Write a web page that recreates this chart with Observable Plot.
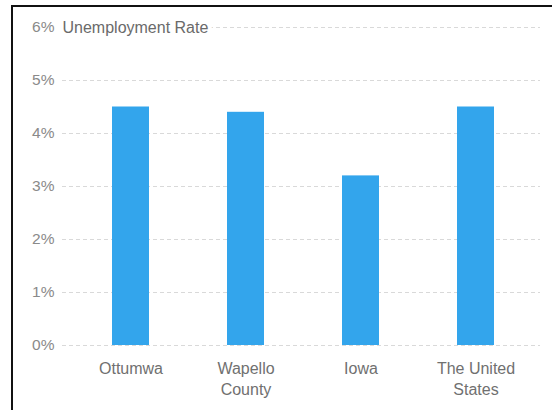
<!DOCTYPE html>
<html>
<head>
<meta charset="utf-8">
<script src="https://cdn.jsdelivr.net/npm/d3@7"></script>
<script src="https://cdn.jsdelivr.net/npm/@observablehq/plot@0.6"></script>
<style>
  html, body { margin: 0; padding: 0; background: #fff; overflow: hidden; width: 552px; height: 410px; }
  #frame { position: absolute; left: 11px; top: 5px; width: 600px; height: 500px;
           border-top: 2.5px solid #111; border-left: 2.5px solid #111; box-sizing: border-box; }
  #chart { position: absolute; left: 0; top: 0; }
</style>
</head>
<body>
<div id="frame"></div>
<div id="chart"></div>
<script>
const categories = ["Ottumwa", "Wapello County", "Iowa", "The United States"];
const tickLabels = ["Ottumwa", "Wapello\nCounty", "Iowa", "The United\nStates"];
const rates = [4.5, 4.4, 3.2, 4.5];
const yTicks = [0, 1, 2, 3, 4, 5, 6];
const title = "Unemployment Rate";

const data = categories.map((c, i) => ({ place: c, rate: rates[i] }));
const labelOf = new Map(categories.map((c, i) => [c, tickLabels[i]]));

const plot = Plot.plot({
  width: 552,
  height: 410,
  marginTop: 27,
  marginBottom: 65,
  marginLeft: 62,
  marginRight: 12,
  style: { fontFamily: "'Liberation Sans', Arial, Helvetica, sans-serif", background: "transparent" },
  x: { domain: categories, insetLeft: 9, insetRight: 6, paddingInner: 0.68, paddingOuter: 0.34, label: null },
  y: { domain: [0, 6], label: null },
  marks: [
    Plot.ruleY(yTicks, { stroke: "#d9d9d9", strokeWidth: 1, strokeDasharray: "4,3" }),
    Plot.barY(data, { x: "place", y: "rate", fill: "#33a5ec" }),
    Plot.axisY({ ticks: yTicks, tickSize: 0, tickPadding: 8, tickFormat: d => d + "%",
                 fontSize: 15.5, fill: "#8a8a8a", label: null }),
    Plot.axisX({ tickSize: 0, tickPadding: 13, tickFormat: d => labelOf.get(d),
                 fontSize: 16, fill: "#707070", lineHeight: 1.35, label: null }),
    Plot.text([title], { frameAnchor: "top-left", text: d => d, textAnchor: "start",
                         lineAnchor: "middle", fontSize: 16, fill: "#6a6a6a",
                         stroke: "white", strokeWidth: 8 })
  ]
});
document.getElementById("chart").appendChild(plot);
</script>
</body>
</html>
